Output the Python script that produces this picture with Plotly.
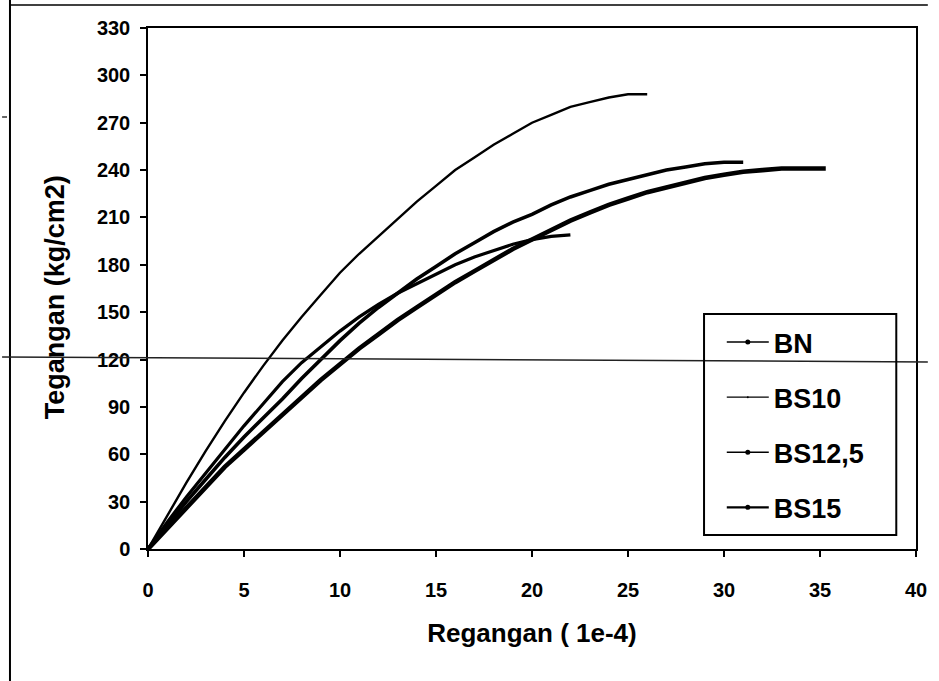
import plotly.graph_objects as go

# ---- data (strain x1e-4, stress kg/cm2) ----
bn_x = [0, 1, 2, 3, 4, 5, 6, 7, 8, 9, 10, 11, 12, 13, 14, 15, 16, 17, 18, 19, 20, 21, 22]
bn_y = [0, 17, 33, 48, 63, 78, 92, 106, 118, 128, 138, 147, 155, 162, 168, 174, 180, 185, 189, 193, 196, 198, 199]

bs10_x = [0, 1, 2, 3, 4, 5, 6, 7, 8, 9, 10, 11, 12, 13, 14, 15, 16, 17, 18, 19, 20, 21, 22, 23, 24, 25, 26]
bs10_y = [0, 21, 42, 62, 81, 99, 116, 132, 147, 161, 175, 187, 198, 209, 220, 230, 240, 248, 256, 263, 270, 275, 280, 283, 286, 288, 288]

bs125_x = [0, 1, 2, 3, 4, 5, 6, 7, 8, 9, 10, 11, 12, 13, 14, 15, 16, 17, 18, 19, 20, 21, 22, 23, 24, 25, 26, 27, 28, 29, 30, 31]
bs125_y = [0, 15, 30, 44, 58, 71, 83, 95, 108, 120, 132, 143, 153, 162, 171, 179, 187, 194, 201, 207, 212, 218, 223, 227, 231, 234, 237, 240, 242, 244, 245, 245]

bs15_x = [0, 1, 2, 3, 4, 5, 6, 7, 8, 9, 10, 11, 12, 13, 14, 15, 16, 17, 18, 19, 20, 21, 22, 23, 24, 25, 26, 27, 28, 29, 30, 31, 32, 33, 34, 35, 35.3]
bs15_y = [0, 13, 27, 40, 52, 63, 74, 85, 96, 107, 117, 127, 136, 145, 153, 161, 169, 176, 183, 190, 196, 202, 208, 213, 218, 222, 226, 229, 232, 235, 237, 239, 240, 241, 241, 241, 241]

series_names = ["BN", "BS10", "BS12,5", "BS15"]

x_ticks = [0, 5, 10, 15, 20, 25, 30, 35, 40]
y_ticks = [0, 30, 60, 90, 120, 150, 180, 210, 240, 270, 300, 330]

x_title = "Regangan ( 1e-4)"
y_title = "Tegangan (kg/cm2)"

FONT = "Liberation Sans, Arial, sans-serif"

fig = go.Figure()
# data line width, legend line width, legend marker size
styles = [
    (bn_x, bn_y, 3.2, 1.5, 5),
    (bs10_x, bs10_y, 2.4, 1.3, 2),
    (bs125_x, bs125_y, 3.6, 1.5, 5),
    (bs15_x, bs15_y, 4.6, 2.2, 5),
]
for i, (name, (xs, ys, lw, llw, ms)) in enumerate(zip(series_names, styles)):
    fig.add_trace(go.Scatter(
        x=xs, y=ys, name=name, mode="lines",
        line=dict(color="black", width=lw),
        legendgroup=f"g{i}", showlegend=False,
    ))
    # legend entry: thin line with a small dot, as in the original legend
    fig.add_trace(go.Scatter(
        x=[None], y=[None], name=name, mode="lines+markers",
        line=dict(color="black", width=llw),
        marker=dict(color="black", size=ms),
        legendgroup=f"g{i}", showlegend=True,
    ))

# plot area pixels: left 148, right 927, top 28, bottom 549
W, H = 939, 681
L, R, T, B = 148, 12, 28, 132
pw = W - L - R
ph = H - T - B

def px(xp):
    return (xp - L) / pw

def py(yp):
    return (H - B - yp) / ph

shapes = [
    # outer scanned frame (left and top)
    dict(type="line", xref="paper", yref="paper", x0=px(8), x1=px(8), y0=py(0), y1=py(681),
         line=dict(color="black", width=2)),
    dict(type="line", xref="paper", yref="paper", x0=px(8), x1=px(939), y0=py(5), y1=py(5),
         line=dict(color="black", width=1.5)),
    # small stray mark left of the frame
    dict(type="line", xref="paper", yref="paper", x0=px(0), x1=px(5), y0=py(117), y1=py(117),
         line=dict(color="black", width=1.2)),
    # horizontal scan line across the page
    dict(type="line", xref="paper", yref="paper", x0=px(0), x1=px(939), y0=py(357), y1=py(362),
         line=dict(color="#222222", width=1.5), layer="above"),
    # legend box
    dict(type="rect", xref="paper", yref="paper", x0=px(712), x1=px(907), y0=py(314), y1=py(535),
         line=dict(color="black", width=2), fillcolor="rgba(0,0,0,0)", layer="above"),
]

annotations = [
    dict(text=y_title, xref="paper", yref="paper", x=px(54), y=py(297),
         xanchor="center", yanchor="middle", textangle=-90, showarrow=False,
         font=dict(family=FONT, size=27, color="black", weight="bold")),
]

fig.update_layout(
    width=W, height=H,
    margin=dict(l=L, r=R, t=T, b=B),
    paper_bgcolor="white", plot_bgcolor="white",
    font=dict(family=FONT, color="black"),
    shapes=shapes,
    annotations=annotations,
    showlegend=True,
    legend=dict(
        x=px(730), y=py(318), xanchor="left", yanchor="top",
        bgcolor="rgba(0,0,0,0)", borderwidth=0,
        font=dict(family=FONT, size=27, color="black", weight="bold"),
        tracegroupgap=17, itemwidth=42,
    ),
    xaxis=dict(
        range=[0, 40], tickvals=x_ticks, ticktext=[str(v) for v in x_ticks],
        showgrid=False, zeroline=False,
        showline=True, linecolor="black", linewidth=1.5, mirror=True,
        ticks="outside", ticklen=6, tickcolor="black", tickwidth=1.5,
        tickfont=dict(family=FONT, size=20, color="black", weight="bold"),
        ticklabelstandoff=16,
        title=dict(text=x_title, standoff=24,
                   font=dict(family=FONT, size=26, color="black", weight="bold")),
    ),
    yaxis=dict(
        range=[0, 330], tickvals=y_ticks, ticktext=[str(v) for v in y_ticks],
        showgrid=False, zeroline=False,
        showline=True, linecolor="black", linewidth=1.5, mirror=True,
        ticks="outside", ticklen=6, tickcolor="black", tickwidth=1.5,
        tickfont=dict(family=FONT, size=20, color="black", weight="bold"),
        ticklabelstandoff=6,
    ),
)

fig.write_html("out.html")
